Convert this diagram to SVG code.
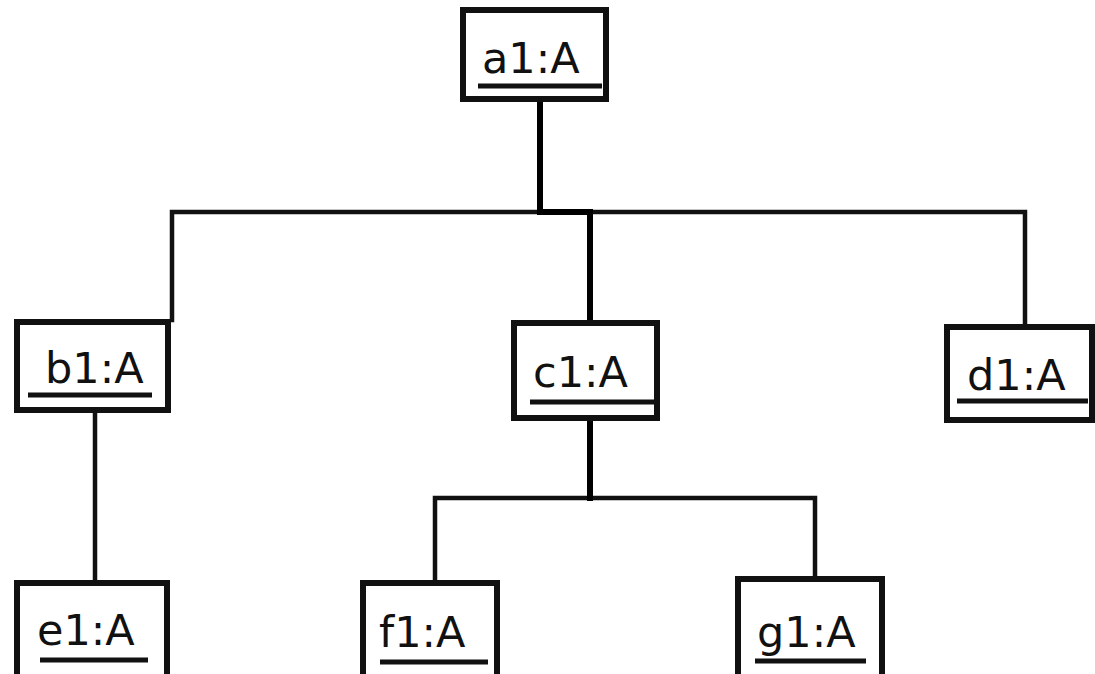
<svg xmlns="http://www.w3.org/2000/svg" width="1095" height="674" viewBox="0 0 1095 674">
  <style>
    .box { fill: #ffffff; stroke: #111111; stroke-width: 6; }
    .label { font-family: "DejaVu Sans", sans-serif; font-size: 43px; fill: #111111; }
    .ul { stroke: #111111; stroke-width: 5; }
    .link { fill: none; stroke: #111111; stroke-width: 4.5; stroke-linejoin: miter; stroke-linecap: square; }
    .trunk { fill: none; stroke: #000000; stroke-width: 6; stroke-linejoin: miter; stroke-linecap: square; }
  </style>
  <rect width="1095" height="674" fill="#ffffff"/>

  <g id="connectors">
    <path class="link" d="M172 320 V212 H1025 V325"/>
    <path class="link" d="M95 412 V581"/>
    <path class="link" d="M435 581 V498 H815 V577"/>
    <path class="trunk" d="M540 102 V212 H590 V321"/>
    <path class="trunk" d="M590 420 V498"/>
  </g>

  <g id="a1">
    <rect class="box" x="463" y="10" width="143" height="89"/>
    <text class="label" x="482" y="73">a1:A</text>
    <line class="ul" x1="478" y1="86" x2="602" y2="86"/>
  </g>
  <g id="b1">
    <rect class="box" x="17" y="322" width="151" height="88"/>
    <text class="label" x="45" y="383">b1:A</text>
    <line class="ul" x1="28" y1="395" x2="152" y2="395"/>
  </g>
  <g id="c1">
    <rect class="box" x="514" y="323" width="143" height="95"/>
    <text class="label" x="533" y="387">c1:A</text>
    <line class="ul" x1="530" y1="402" x2="655" y2="402"/>
  </g>
  <g id="d1">
    <rect class="box" x="947" y="327" width="145" height="93"/>
    <text class="label" x="967" y="390">d1:A</text>
    <line class="ul" x1="957" y1="401" x2="1088" y2="401"/>
  </g>
  <g id="e1">
    <rect class="box" x="17" y="583" width="150" height="100"/>
    <text class="label" x="37" y="645">e1:A</text>
    <line class="ul" x1="40" y1="660" x2="148" y2="660"/>
  </g>
  <g id="f1">
    <rect class="box" x="363" y="583" width="134" height="100"/>
    <text class="label" x="379" y="647">f1:A</text>
    <line class="ul" x1="380" y1="662" x2="488" y2="662"/>
  </g>
  <g id="g1">
    <rect class="box" x="738" y="579" width="144" height="104"/>
    <text class="label" x="757" y="647">g1:A</text>
    <line class="ul" x1="755" y1="661" x2="866" y2="661"/>
  </g>
</svg>
